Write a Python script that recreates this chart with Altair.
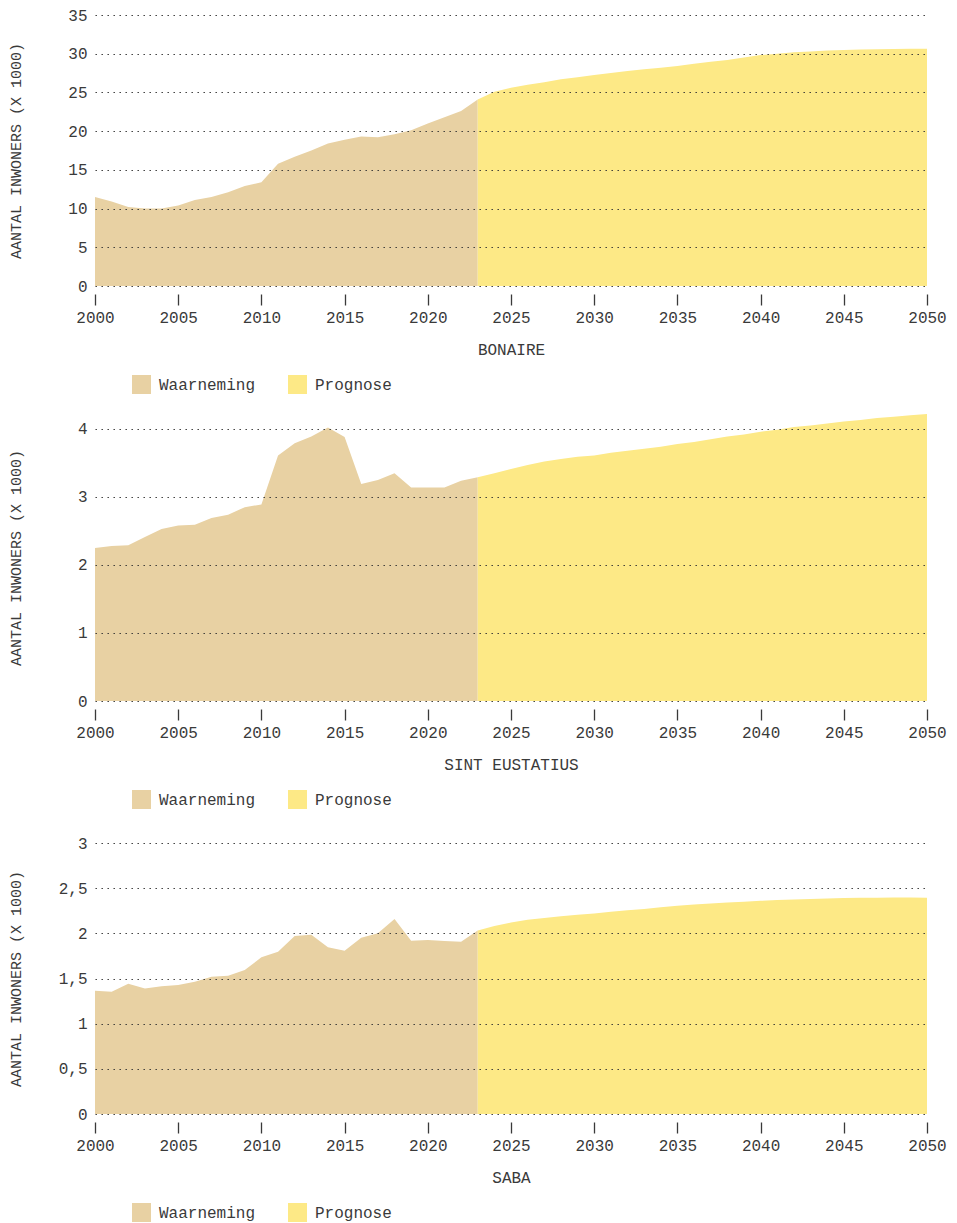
import altair as alt
import pandas as pd

# ---------------- data ----------------
years_obs = list(range(2000, 2024))
years_prog = list(range(2023, 2051))

bonaire_obs = [11.5, 10.9, 10.2, 10.0, 10.0, 10.4, 11.1, 11.5, 12.1, 12.9, 13.4, 15.8,
               16.7, 17.5, 18.4, 18.9, 19.3, 19.2, 19.6, 20.1, 21.0, 21.8, 22.6, 24.1]
bonaire_prog = [24.1, 25.1, 25.6, 26.0, 26.3, 26.7, 26.95, 27.25, 27.5, 27.77, 28.0, 28.2,
                28.41, 28.7, 28.97, 29.2, 29.5, 29.83, 30.0, 30.18, 30.3, 30.4, 30.48, 30.53,
                30.57, 30.6, 30.63, 30.65]

statia_obs = [2.25, 2.28, 2.29, 2.41, 2.53, 2.58, 2.59, 2.69, 2.74, 2.85, 2.89, 3.61,
              3.79, 3.89, 4.02, 3.88, 3.19, 3.25, 3.35, 3.14, 3.14, 3.14, 3.24, 3.29]
statia_prog = [3.29, 3.35, 3.41, 3.47, 3.52, 3.56, 3.59, 3.61, 3.65, 3.68, 3.71, 3.74,
               3.78, 3.81, 3.85, 3.89, 3.92, 3.96, 3.99, 4.03, 4.05, 4.08, 4.11, 4.13,
               4.16, 4.18, 4.20, 4.22]

saba_obs = [1.365, 1.354, 1.443, 1.39, 1.413, 1.428, 1.465, 1.52, 1.53, 1.594, 1.734, 1.797,
            1.97, 1.985, 1.845, 1.808, 1.952, 2.0, 2.159, 1.919, 1.926, 1.915, 1.907, 2.03]
saba_prog = [2.03, 2.08, 2.12, 2.15, 2.17, 2.19, 2.205, 2.22, 2.24, 2.255, 2.27, 2.29,
             2.306, 2.32, 2.33, 2.34, 2.35, 2.36, 2.37, 2.375, 2.38, 2.385, 2.39, 2.393,
             2.395, 2.396, 2.396, 2.395]

x_ticks = list(range(2000, 2051, 5))
series_names = ["Waarneming", "Prognose"]
y_title = "AANTAL INWONERS (X 1000)"

FONT = "Liberation Mono"
TAN = "#E8D1A3"
YEL = "#FDE986"
TXT = "#3a3a3a"
W = 832


def panel(name, obs, prog, ymax, yticks, height):
    df = pd.DataFrame({
        "jaar": years_obs + years_prog,
        "waarde": obs + prog,
        "type": [series_names[0]] * len(obs) + [series_names[1]] * len(prog),
    })
    return alt.Chart(df).mark_area(interpolate="linear", opacity=1).encode(
        x=alt.X("jaar:Q",
                scale=alt.Scale(domain=[2000, 2050], nice=False, zero=False),
                axis=alt.Axis(values=x_ticks, format="d", title=name, grid=False,
                              domain=False, ticks=True, tickSize=11, tickColor=TXT,
                              tickWidth=1.3, offset=8, labelPadding=4, titlePadding=16,
                              labelFlush=False, titleFontSize=16)),
        y=alt.Y("waarde:Q", stack=None,
                scale=alt.Scale(domain=[0, ymax], nice=False),
                axis=alt.Axis(values=yticks,
                              labelExpr="replace(format(datum.value, '~g'), '.', ',')",
                              title=y_title, titleX=-80, titleY=height / 2,
                              titleAngle=270, titleAlign="center", titleBaseline="middle",
                              titleFontSize=15,
                              domain=False, ticks=False, grid=True, gridDash=[1.4, 4.6],
                              gridColor="#333333", gridWidth=1.2, labelPadding=8, zindex=1)),
        color=alt.Color("type:N",
                        scale=alt.Scale(domain=series_names, range=[TAN, YEL]),
                        legend=alt.Legend(orient="none", legendX=37, legendY=height + 89,
                                          direction="horizontal", title=None,
                                          symbolType="square", symbolSize=361,
                                          symbolStrokeWidth=0, symbolOpacity=1,
                                          labelOffset=8, columnPadding=32, padding=0)),
    ).properties(width=W, height=height)


p1 = panel("BONAIRE", bonaire_obs, bonaire_prog, 35, [0, 5, 10, 15, 20, 25, 30, 35], 271)
p2 = panel("SINT EUSTATIUS", statia_obs, statia_prog, 4.22, [0, 1, 2, 3, 4], 287)
p3 = panel("SABA", saba_obs, saba_prog, 3, [0, 0.5, 1, 1.5, 2, 2.5, 3], 271)

inner = alt.vconcat(p1, p2, spacing=20).resolve_scale(
    x="independent", y="independent", color="independent"
).resolve_legend(color="independent")

chart = alt.vconcat(inner, p3, spacing=26).resolve_scale(
    x="independent", y="independent", color="independent"
).resolve_legend(color="independent").properties(
    padding={"left": 0, "top": -1, "right": 0, "bottom": 0}
).configure_view(stroke=None).configure_axis(
    labelFont=FONT, labelFontSize=16, labelColor=TXT,
    titleFont=FONT, titleColor=TXT, titleFontWeight="normal",
).configure_legend(
    labelFont=FONT, labelFontSize=16, labelColor=TXT,
)

chart.save("out.html", embed_options={"renderer": "svg", "actions": False})
